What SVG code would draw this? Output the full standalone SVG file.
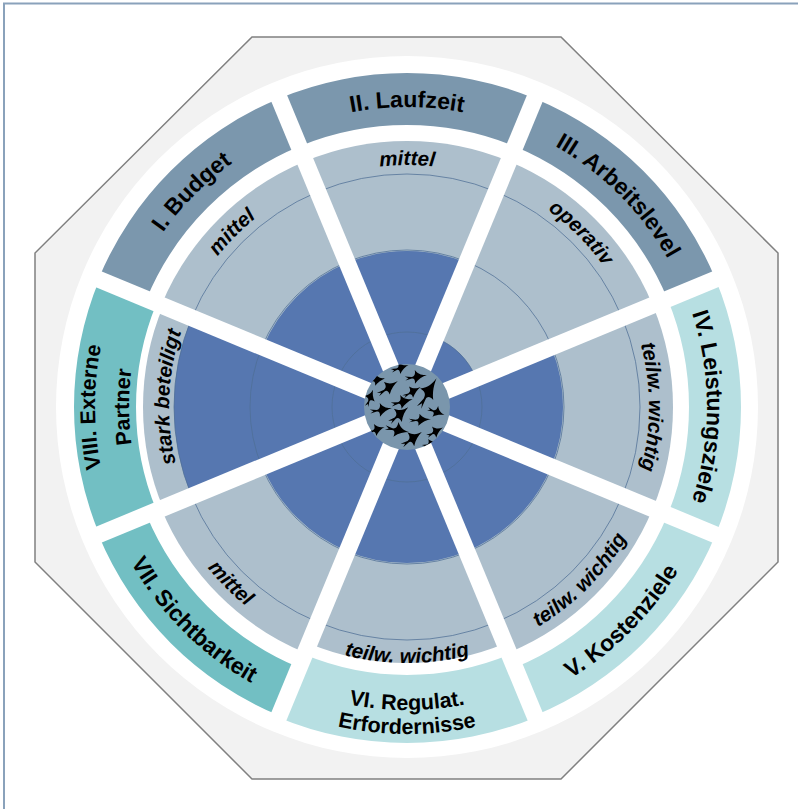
<svg xmlns="http://www.w3.org/2000/svg" width="798" height="809" viewBox="0 0 798 809">
<style>
.lbl{font-family:"Liberation Sans",Arial,sans-serif;font-weight:bold;font-size:23px;fill:#000}
.lbl2{font-family:"Liberation Sans",Arial,sans-serif;font-weight:bold;font-size:21.5px;fill:#000}
.val{font-family:"Liberation Sans",Arial,sans-serif;font-weight:bold;font-style:italic;font-size:20.5px;fill:#000}
.c1{fill:#7b97ad}
.c2{fill:#b7dfe2}
.c3{fill:#72bfc3}
.mid{fill:#adbfcc}
.dark{fill:#5677b0}
.grid{fill:none;stroke:#4f6f96;stroke-width:1;opacity:0.75}
.bar{stroke:#fff;stroke-width:17}
</style>
<defs>
<path id="band1" d="M308.58,-127.82 A334,334 0 0 1 308.58,127.82 L260.53,107.92 A282,282 0 0 0 260.53,-107.92 Z"/>
<path id="band2" d="M310.42,-128.58 A336,336 0 0 1 310.42,128.58 L247.60,102.56 A268,268 0 0 0 247.60,-102.56 Z"/>
<path id="band3" d="M307.65,-127.43 A333,333 0 0 1 307.65,127.43 L250.37,103.71 A271,271 0 0 0 250.37,-103.71 Z"/>
<path id="w266" d="M0,0 L245.75,-101.79 A266,266 0 0 1 245.75,101.79 Z"/>
<path id="w256" d="M0,0 L236.51,-97.97 A256,256 0 0 1 236.51,97.97 Z"/>
<path id="w264" d="M0,0 L243.90,-101.03 A264,264 0 0 1 243.90,101.03 Z"/>
<path id="w156" d="M0,0 L144.13,-59.70 A156,156 0 0 1 144.13,59.70 Z"/>
<path id="w75" d="M0,0 L69.29,-28.70 A75,75 0 0 1 69.29,28.70 Z"/>
<path id="w233" d="M0,0 L215.26,-89.16 A233,233 0 0 1 215.26,89.16 Z"/>
<path id="cw300" d="M229.81,-192.84 A300,300 0 0 1 229.81,192.84"/>
<path id="cw312" d="M239.00,-200.55 A312,312 0 0 1 239.00,200.55"/>
<path id="cw278" d="M212.96,-178.70 A278,278 0 0 1 212.96,178.70"/>
<path id="ccw317" d="M242.83,203.76 A317,317 0 0 0 242.83,-203.76"/>
<path id="ccw303" d="M232.11,194.77 A303,303 0 0 0 232.11,-194.77"/>
<path id="ccw327" d="M250.50,210.19 A327,327 0 0 0 250.50,-210.19"/>
<path id="cw242" d="M185.38,-155.56 A242,242 0 0 1 185.38,155.56"/>
<path id="cw238" d="M182.32,-152.98 A238,238 0 0 1 182.32,152.98"/>
<path id="ccw256" d="M196.11,164.55 A256,256 0 0 0 196.11,-164.55"/>
<path id="bird" d="M10,0 C6,-1 3,-2 0,-9 C0,-4 -1,-1 -4,-1 L-10,-3 L-7,0 L-10,2 L-4,1 C-2,1 -1,3 -2,8 C2,3 6,1 10,0 Z" fill="#000"/>
<clipPath id="hub"><circle cx="407" cy="407" r="43"/></clipPath>
</defs>
<rect width="798" height="809" fill="#fff"/>
<rect x="4" y="3.5" width="900" height="900" fill="none" stroke="#8aa2bb" stroke-width="2"/>
<polygon points="252,37 561,37 778,253 778,562 561,779 252,779 35,562 35,253" fill="#f2f2f2" stroke="#808080" stroke-width="1.5"/>
<circle cx="407" cy="407" r="351" fill="#fff"/>

<g id="node-I" transform="translate(407,407) rotate(-135)">
<use href="#band1" class="c1"/><use href="#w266" class="mid"/><use href="#w156" class="dark"/>
<text class="lbl"><textPath href="#cw300" startOffset="50%" text-anchor="middle">I. Budget</textPath></text>
<text class="val"><textPath href="#cw242" startOffset="50%" text-anchor="middle">mittel</textPath></text>
</g>
<g id="node-II" transform="translate(407,407) rotate(-90)">
<use href="#band1" class="c1"/><use href="#w266" class="mid"/><use href="#w156" class="dark"/>
<text class="lbl"><textPath href="#cw300" startOffset="50%" text-anchor="middle">II. Laufzeit</textPath></text>
<text class="val"><textPath href="#cw242" startOffset="50%" text-anchor="middle">mittel</textPath></text>
</g>
<g id="node-III" transform="translate(407,407) rotate(-45)">
<use href="#band1" class="c1"/><use href="#w266" class="mid"/><use href="#w75" class="dark"/>
<text class="lbl"><textPath href="#cw300" startOffset="50%" text-anchor="middle">III. Arbeitslevel</textPath></text>
<text class="val"><textPath href="#cw242" startOffset="50%" text-anchor="middle">operativ</textPath></text>
</g>
<g id="node-IV" transform="translate(407,407)">
<use href="#band1" class="c2"/><use href="#w266" class="mid"/><use href="#w156" class="dark"/>
<text class="lbl"><textPath href="#cw300" startOffset="50%" text-anchor="middle">IV. Leistungsziele</textPath></text>
<text class="val"><textPath href="#cw242" startOffset="50%" text-anchor="middle">teilw. wichtig</textPath></text>
</g>
<g id="node-V" transform="translate(407,407) rotate(45)">
<use href="#band1" class="c2"/><use href="#w266" class="mid"/><use href="#w156" class="dark"/>
<text class="lbl"><textPath href="#ccw317" startOffset="50%" text-anchor="middle">V. Kostenziele</textPath></text>
<text class="val"><textPath href="#ccw256" startOffset="50%" text-anchor="middle">teilw. wichtig</textPath></text>
</g>
<g id="node-VI" transform="translate(407,407) rotate(90)">
<use href="#band2" class="c2"/><use href="#w256" class="mid"/><use href="#w156" class="dark"/>
<text class="lbl2"><textPath href="#ccw303" startOffset="50%" text-anchor="middle">VI. Regulat.</textPath></text>
<text class="lbl2"><textPath href="#ccw327" startOffset="50%" text-anchor="middle">Erfordernisse</textPath></text>
<text class="val"><textPath href="#ccw256" startOffset="50%" text-anchor="middle">teilw. wichtig</textPath></text>
</g>
<g id="node-VII" transform="translate(407,407) rotate(135)">
<use href="#band1" class="c3"/><use href="#w266" class="mid"/><use href="#w156" class="dark"/>
<text class="lbl"><textPath href="#ccw317" startOffset="50%" text-anchor="middle">VII. Sichtbarkeit</textPath></text>
<text class="val"><textPath href="#ccw256" startOffset="50%" text-anchor="middle">mittel</textPath></text>
</g>
<g id="node-VIII" transform="translate(407,407) rotate(180)">
<use href="#band3" class="c3"/><use href="#w264" class="mid"/><use href="#w233" class="dark"/>
<text class="lbl2"><textPath href="#cw312" startOffset="50%" text-anchor="middle">VIII. Externe</textPath></text>
<text class="lbl2"><textPath href="#cw278" startOffset="50%" text-anchor="middle">Partner</textPath></text>
<text class="val"><textPath href="#cw238" startOffset="53%" text-anchor="middle">stark beteiligt</textPath></text>
</g>

<g id="grid">
<circle class="grid" cx="407" cy="407" r="75"/>
<circle class="grid" cx="407" cy="407" r="157"/>
<circle class="grid" cx="407" cy="407" r="233"/>
</g>

<g id="separators" transform="translate(407,407)">
<line class="bar" x1="-318.7" y1="-132.0" x2="318.7" y2="132.0"/>
<line class="bar" x1="-132.0" y1="-318.7" x2="132.0" y2="318.7"/>
<line class="bar" x1="132.0" y1="-318.7" x2="-132.0" y2="318.7"/>
<line class="bar" x1="318.7" y1="-132.0" x2="-318.7" y2="132.0"/>
</g>

<g id="hub-node">
<circle cx="407" cy="407" r="43" fill="#7a96ac"/>
<g clip-path="url(#hub)">
<use href="#bird" transform="translate(400,368) rotate(-20) scale(0.9,0.7)"/>
<use href="#bird" transform="translate(416,377) rotate(-10) scale(1.1,0.8)"/>
<use href="#bird" transform="translate(388,388) rotate(-35) scale(1.2,0.8)"/>
<use href="#bird" transform="translate(412,392) rotate(-30) scale(1,0.7)"/>
<use href="#bird" transform="translate(428,393) rotate(-60) scale(1.7,1)"/>
<use href="#bird" transform="translate(376,380) rotate(-10) scale(0.9,0.7)"/>
<use href="#bird" transform="translate(370,398) rotate(-70) scale(0.9,0.7)"/>
<use href="#bird" transform="translate(402,402) rotate(-15) scale(1.1,0.8)"/>
<use href="#bird" transform="translate(381,410) rotate(-10) scale(1.1,0.8)"/>
<use href="#bird" transform="translate(399,415) rotate(-40) scale(1.2,0.9)"/>
<use href="#bird" transform="translate(436,412) rotate(20) scale(0.9,0.7)"/>
<use href="#bird" transform="translate(420,420) rotate(-5) scale(1.1,0.7)"/>
<use href="#bird" transform="translate(397,430) rotate(10) scale(1.2,0.9)"/>
<use href="#bird" transform="translate(376,430) rotate(-20) scale(0.9,0.7)"/>
<use href="#bird" transform="translate(412,439) rotate(-35) scale(1.2,0.9)"/>
<use href="#bird" transform="translate(435,432) rotate(-30) scale(0.9,0.7)"/>
<use href="#bird" transform="translate(430,444) rotate(-20) scale(0.8,0.6)"/>
</g>
</g>
</svg>
